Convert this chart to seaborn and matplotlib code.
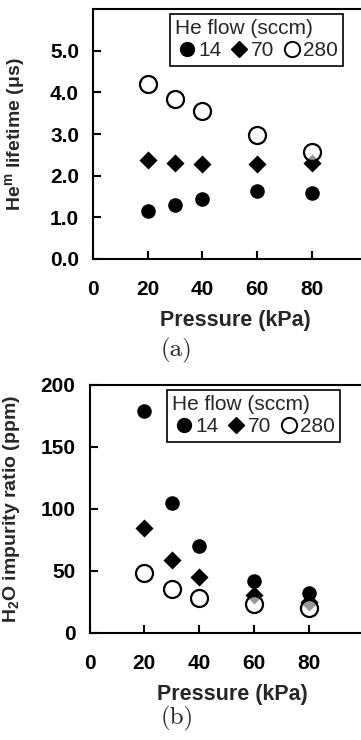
import numpy as np
import pandas as pd
import seaborn as sns
import matplotlib.pyplot as plt
from matplotlib.lines import Line2D

sns.set_style("ticks")
plt.rcParams['font.family'] = ['Liberation Sans', 'DejaVu Sans']
plt.rcParams['mathtext.fontset'] = 'custom'
plt.rcParams['mathtext.rm'] = 'Liberation Sans:bold'
plt.rcParams['mathtext.it'] = 'Liberation Sans:bold'
plt.rcParams['mathtext.bf'] = 'Liberation Sans:bold'

pressure = [20, 30, 40, 60, 80]
flows = ["14", "70", "280"]

# (a) He metastable lifetime (us)
life_14 = [1.15, 1.30, 1.44, 1.63, 1.59]
life_70 = [2.38, 2.30, 2.27, 2.28, 2.30]
life_280 = [4.20, 3.85, 3.55, 2.97, 2.57]

# (b) H2O impurity ratio (ppm)
h2o_14 = [179, 105, 70, 42, 32]
h2o_70 = [85, 59, 45, 31, 25]
h2o_280 = [48.5, 35.5, 28.5, 23, 20]

W, H = 361, 740
fig = plt.figure(figsize=(W / 100, H / 100), dpi=100)

styles = {
    "14": dict(marker="o", s=110, color="black", edgecolor="black", linewidth=0),
    "70": dict(marker="D", s=85, color="black", edgecolor="black", linewidth=0),
    "280": dict(marker="o", s=150, facecolor=(1, 1, 1, 0.6), edgecolor="black", linewidth=1.6),
}


def panel(rect, series, ylim, yticks, yfmt, ylabel, ylab_x, legend_xy, caption, cap_y):
    ax = fig.add_axes(rect)
    for name, vals in zip(flows, series):
        df = pd.DataFrame({"Pressure": pressure, "val": vals})
        sns.scatterplot(data=df, x="Pressure", y="val", ax=ax, zorder=3, **styles[name])
    ax.set_xlim(0, 100)
    ax.set_ylim(*ylim)
    ax.set_xticks([0, 20, 40, 60, 80])
    ax.set_yticks(yticks)
    ax.set_yticklabels([yfmt.format(v) for v in yticks])
    for sp in ["left", "bottom", "top", "right"]:
        ax.spines[sp].set_linewidth(1.5)
        ax.spines[sp].set_color("black")
    ax.tick_params(direction="in", length=6, width=1.5, labelsize=15, colors="black")
    ax.tick_params(axis="x", pad=15)
    ax.tick_params(axis="y", pad=10)
    for t in ax.get_xticklabels() + ax.get_yticklabels():
        t.set_fontweight("bold")
    ax.set_xlabel("Pressure (kPa)", fontsize=15.5, fontweight="bold")
    ax.xaxis.set_label_coords(0.52, -0.205)
    ax.set_ylabel(ylabel, fontsize=14, fontweight="bold")
    ax.yaxis.set_label_coords(ylab_x, 0.5)

    handles = [
        Line2D([], [], marker="o", ls="", color="black", markersize=10),
        Line2D([], [], marker="D", ls="", color="black", markersize=8.5),
        Line2D([], [], marker="o", ls="", markerfacecolor="white", markeredgecolor="black",
               markeredgewidth=1.4, markersize=11),
    ]
    leg = ax.legend(handles, flows, title="He flow (sccm)", ncol=3, loc="upper left",
                    bbox_to_anchor=legend_xy, bbox_transform=fig.transFigure,
                    fontsize=15, title_fontsize=15, handletextpad=0.0, columnspacing=0.3,
                    handlelength=1.1, borderpad=0.25, labelspacing=0.15, alignment="left",
                    fancybox=False, framealpha=1, borderaxespad=0)
    leg.get_frame().set_edgecolor("black")
    leg.get_frame().set_linewidth(1.2)
    fig.text(0.49, cap_y, caption, ha="center", va="center", fontsize=18, family="cmr10")
    return ax


panel([93 / W, 1 - 259 / H, 273.5 / W, 250 / H],
      [life_14, life_70, life_280], (0, 6), [0, 1, 2, 3, 4, 5], "{:.1f}",
      "He$^{\\mathregular{m}}$ lifetime (μs)", -0.24, (170 / W, 1 - 14 / H), "(a)", 1 - 350 / H)

panel([89.5 / W, 1 - 633 / H, 274 / W, 248 / H],
      [h2o_14, h2o_70, h2o_280], (0, 200), [0, 50, 100, 150, 200], "{:.0f}",
      "H$_{\\mathregular{2}}$O impurity ratio (ppm)", -0.245, (167 / W, 1 - 390 / H), "(b)", 1 - 718 / H)

fig.savefig("out.png", dpi=100)
